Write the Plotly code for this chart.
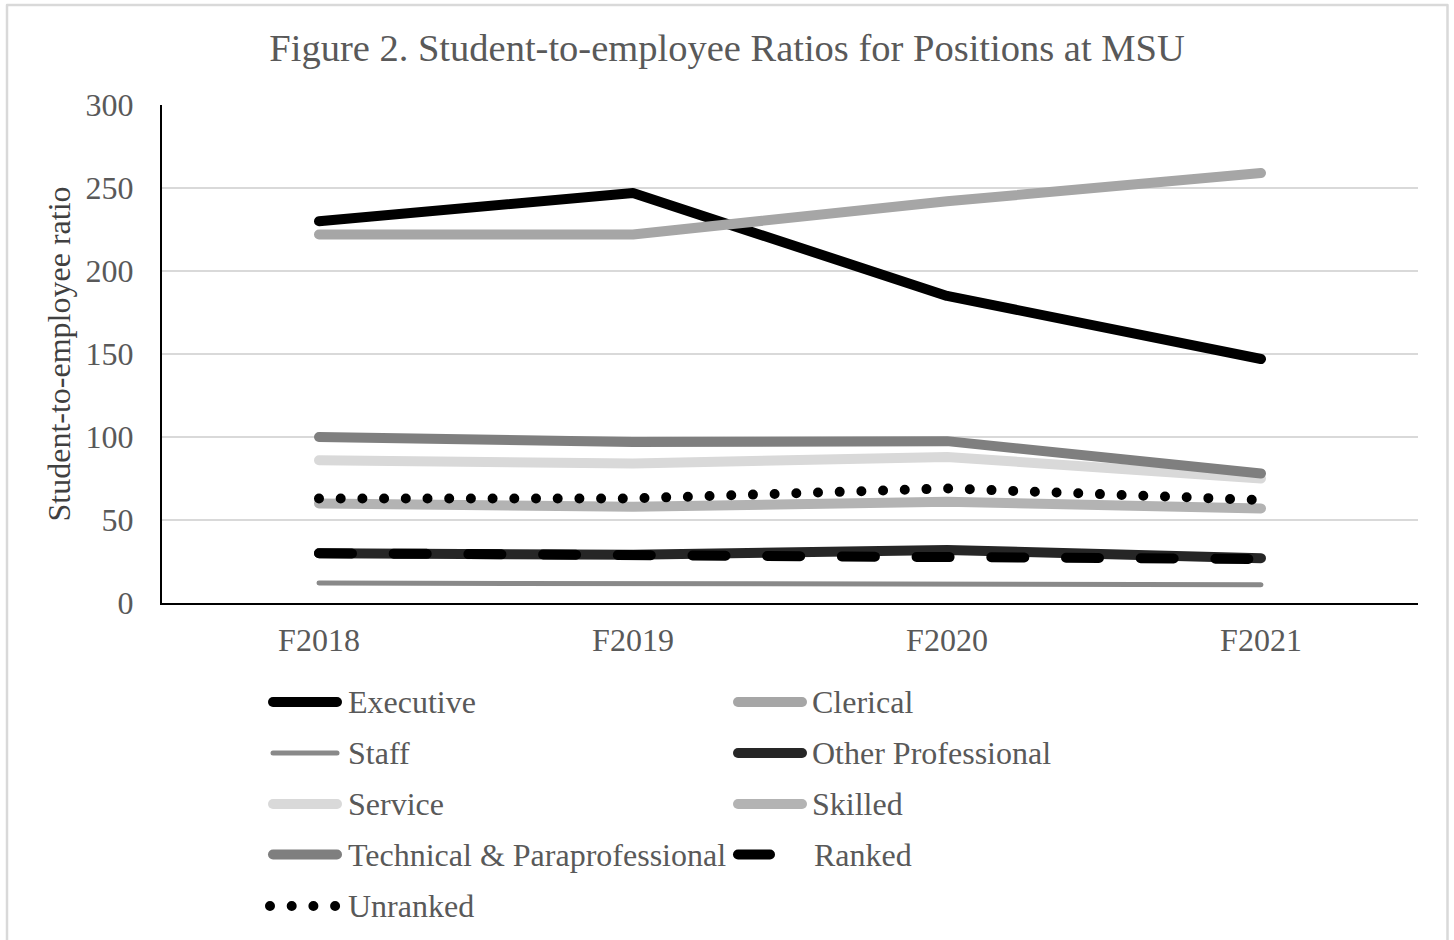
import plotly.graph_objects as go

# ---------------- data ----------------
years = ["F2018", "F2019", "F2020", "F2021"]

executive = [230, 247, 185, 147]
clerical = [222, 222, 242, 259]
staff = [12, 11.5, 11.5, 11]
other_professional = [30, 29, 32, 27]
service = [86, 84, 88, 75]
skilled = [60, 58, 61, 57]
technical = [100, 97, 97.5, 78]
ranked = [30, 29, 28.5, 26.5]
unranked = [63, 63, 69, 62]

series_names = ["Executive", "Clerical", "Staff", "Other Professional", "Service",
                "Skilled", "Technical & Paraprofessional", "Ranked", "Unranked"]
series_values = [executive, clerical, staff, other_professional, service,
                 skilled, technical, ranked, unranked]

# styles (color, width, dash)
styles = {
    "Executive": ("#000000", 10, "solid"),
    "Clerical": ("#a6a6a6", 10, "solid"),
    "Staff": ("#898989", 5, "solid"),
    "Other Professional": ("#262626", 10, "solid"),
    "Service": ("#d9d9d9", 10, "solid"),
    "Skilled": ("#b3b3b3", 10, "solid"),
    "Technical & Paraprofessional": ("#7f7f7f", 10, "solid"),
    "Ranked": ("#000000", 10, "33px,41.7px"),
    "Unranked": ("#000000", 10, "0px,21.7px"),
}

W, H = 1454, 940
L, R, T, B = 162, 1418, 105, 603
FONT = "Liberation Serif"
TXT = "#595959"

def pxx(x):
    return (x - L) / (R - L)

def pxy(y):
    return (B - y) / (B - T)

fig = go.Figure()
for name, vals in zip(series_names, series_values):
    c, w, d = styles[name]
    fig.add_trace(go.Scatter(x=years, y=vals, name=name, mode="lines",
                             line=dict(color=c, width=w, dash=d),
                             showlegend=False, hoverinfo="x+y+name"))

shapes = []
annotations = []

# chart border
shapes.append(dict(type="rect", xref="paper", yref="paper",
                   x0=pxx(7), x1=pxx(1447.5), y0=pxy(946), y1=pxy(5),
                   line=dict(color="#d9d9d9", width=2.5), fillcolor="rgba(0,0,0,0)",
                   layer="below"))

# manual legend (2 columns x 5 rows)
row_y = [702, 753, 804, 854.5, 906]
col_line = [(273, 337), (738, 802)]
col_text = [347, 811]
for i, name in enumerate(series_names):
    r, c = divmod(i, 2)
    color, w, d = styles[name]
    x0, x1 = col_line[c]
    if name == "Ranked":
        x0, x1 = 738, 770
        d = "solid"
    if name == "Unranked":
        x0, x1 = 270, 336
    shapes.append(dict(type="line", xref="paper", yref="paper",
                       x0=pxx(x0), x1=pxx(x1), y0=pxy(row_y[r]), y1=pxy(row_y[r]),
                       line=dict(color=color, width=w, dash=d)))
    tx = col_text[c] + (2 if name == "Ranked" else 0)
    annotations.append(dict(text=name, xref="paper", yref="paper",
                            x=pxx(tx), y=pxy(row_y[r]), xanchor="left", yanchor="middle",
                            showarrow=False, borderpad=0,
                            font=dict(family=FONT, size=32, color=TXT)))

fig.update_layout(
    width=W, height=H,
    margin=dict(l=L, r=W - R, t=T, b=H - B),
    paper_bgcolor="white", plot_bgcolor="white",
    title=dict(text="Figure 2. Student-to-employee Ratios for Positions at MSU",
               x=0.5, xanchor="center", y=1 - 48 / H, yanchor="middle",
               font=dict(family=FONT, size=38.5, color=TXT)),
    xaxis=dict(type="category", range=[-0.5, 3.5], showgrid=False,
               showline=True, linecolor="#000000", linewidth=2,
               ticks="", tickfont=dict(family=FONT, size=32, color=TXT),
               ticklabelstandoff=8, fixedrange=True),
    yaxis=dict(range=[0, 300], dtick=50, tick0=0, showgrid=True,
               gridcolor="#d9d9d9", gridwidth=2, zeroline=False,
               showline=True, linecolor="#000000", linewidth=2,
               ticks="", tickfont=dict(family=FONT, size=32, color=TXT),
               ticklabelstandoff=20, automargin=False,
               title=dict(text="Student-to-employee ratio", standoff=5,
                          font=dict(family=FONT, size=32, color="#404040")),
               fixedrange=True),
    shapes=shapes,
    annotations=annotations,
    showlegend=False,
)

post = """
document.body.style.margin = '0';
document.body.style.padding = '0';
var gd = document.getElementById('{plot_id}');
function roundCaps() {
  gd.querySelectorAll('.scatterlayer path.js-line, .shapelayer path').forEach(function(p) {
    p.style.strokeLinecap = 'round';
    p.style.strokeLinejoin = 'round';
  });
}
roundCaps();
gd.on('plotly_afterplot', roundCaps);
"""

fig.write_html("out.html", post_script=post, config={"displayModeBar": False})
